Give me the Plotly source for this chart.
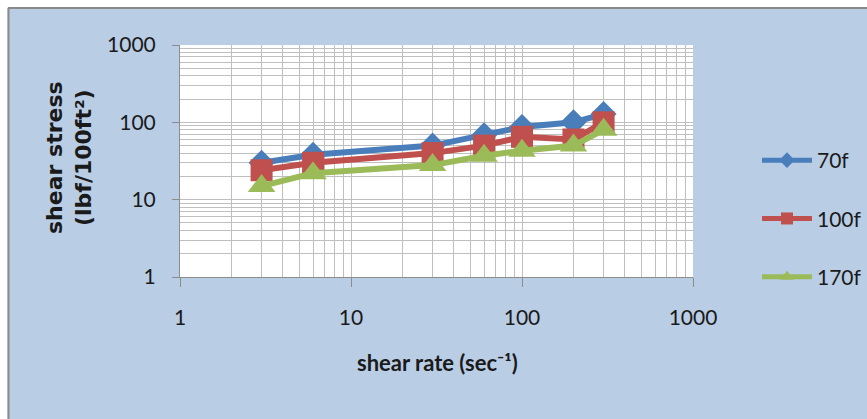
import plotly.graph_objects as go

# Rheology data: shear stress vs shear rate at three temperatures
shear_rate = [3, 6, 30, 60, 100, 200, 300]
stress_70f = [30, 38, 50, 68, 87, 100, 128]
stress_100f = [24, 30, 40, 50, 65, 60, 100]
stress_170f = [15, 22, 28, 37, 43, 50, 80]

series_names = ["70f", "100f", "170f"]
series_colors = ["#4A7EBB", "#C0504D", "#9BBB59"]
series_symbols = ["diamond", "square", "triangle-up"]
series_sizes = [20, 22, 24]

axis_ticks = [1, 10, 100, 1000]
axis_ticktext = ["1", "10", "100", "1000"]

W, H = 867, 419
L, R, T, B = 180, 174, 45, 142
pw, ph = W - L - R, H - T - B


def px_x(x):
    return (x - L) / pw


def px_y(y):
    return (H - B - y) / ph


minor_vals = [m * 10 ** d for d in range(3) for m in range(2, 10)]
grid_color = "#BFBFBF"
tick_font = dict(family="Lato", size=21, color="#1a1a1a")

fig = go.Figure()
for name, ys, col, sym, sz in zip(
    series_names, [stress_70f, stress_100f, stress_170f],
    series_colors, series_symbols, series_sizes,
):
    fig.add_trace(go.Scatter(
        x=shear_rate, y=ys, name=name, mode="lines+markers",
        legendgroup=name,
        line=dict(color=col, width=6),
        marker=dict(symbol=sym, size=sz, color=col),
    ))

axis_common = dict(
    type="log", range=[0, 3],
    tickmode="array", tickvals=axis_ticks, ticktext=axis_ticktext,
    showgrid=True, gridcolor=grid_color, gridwidth=1,
    minor=dict(tickmode="array", tickvals=minor_vals, showgrid=True,
               gridcolor=grid_color, gridwidth=1, ticks=""),
    showline=True, linecolor="#8C8C8C", linewidth=1,
    ticks="outside", tickcolor="#8C8C8C",
    tickfont=tick_font, zeroline=False,
)

fig.update_layout(
    width=W, height=H, autosize=False,
    margin=dict(l=L, r=R, t=T, b=B, autoexpand=False),
    paper_bgcolor="#B9CDE5", plot_bgcolor="white",
    xaxis=dict(axis_common, ticklen=9, ticklabelstandoff=13),
    yaxis=dict(axis_common, ticklen=7, ticklabelstandoff=12),
    showlegend=True,
    legend=dict(
        x=px_x(757), y=px_y(140), xanchor="left", yanchor="top",
        bgcolor="rgba(0,0,0,0)", font=dict(family="Lato", size=21, color="#1a1a1a"),
        tracegroupgap=28, itemwidth=50, itemsizing="constant",
    ),
    shapes=[
        dict(type="rect", xref="paper", yref="paper",
             x0=px_x(-5), x1=px_x(W + 5), y0=px_y(7.5), y1=px_y(-5),
             fillcolor="white", line=dict(width=0), layer="below"),
        dict(type="rect", xref="paper", yref="paper",
             x0=px_x(-5), x1=px_x(7.5), y0=px_y(H + 5), y1=px_y(-5),
             fillcolor="white", line=dict(width=0), layer="below"),
        dict(type="line", xref="paper", yref="paper",
             x0=px_x(8), x1=px_x(W + 5), y0=px_y(8), y1=px_y(8),
             line=dict(color="#8A8A8A", width=2)),
        dict(type="line", xref="paper", yref="paper",
             x0=px_x(8.5), x1=px_x(8.5), y0=px_y(8), y1=px_y(H + 5),
             line=dict(color="#8A8A8A", width=2)),
    ],
    annotations=[
        dict(text="shear stress<br>(lbf/100ft²)", textangle=-90,
             xref="paper", yref="paper", x=px_x(69), y=px_y(158),
             xanchor="center", yanchor="middle", showarrow=False,
             font=dict(family="DejaVu Sans", size=22, color="#1a1a1a", weight="bold")),
        dict(text="shear rate (sec⁻¹)",
             xref="paper", yref="paper", x=px_x(437), y=px_y(362),
             xanchor="center", yanchor="middle", showarrow=False,
             font=dict(family="Lato", size=22, color="#1a1a1a", weight="bold")),
    ],
)

fig.write_html("out.html")
